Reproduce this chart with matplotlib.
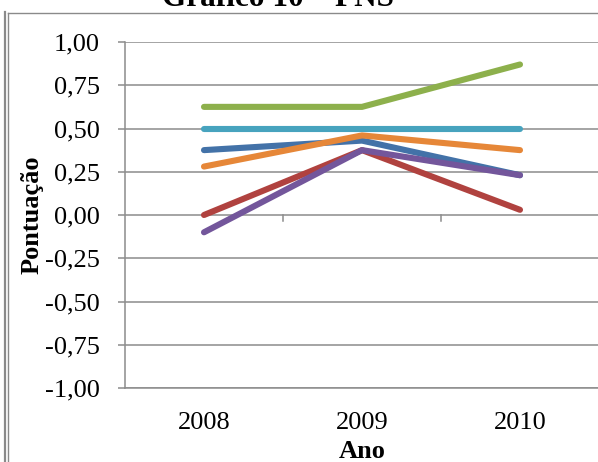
import matplotlib
matplotlib.use("Agg")
import matplotlib.pyplot as plt
from matplotlib.ticker import FuncFormatter, MultipleLocator

# Series data (Pontuação per year)
anos = ["2008", "2009", "2010"]
serie_azul = [0.375, 0.43, 0.23]
serie_vermelha = [0.0, 0.375, 0.03]
serie_verde = [0.625, 0.625, 0.87]
serie_roxa = [-0.10, 0.375, 0.23]
serie_ciano = [0.50, 0.50, 0.50]
serie_laranja = [0.28, 0.46, 0.375]

series = [
    (serie_azul, "#4372A8"),
    (serie_vermelha, "#B0423F"),
    (serie_verde, "#8DB04C"),
    (serie_roxa, "#73569B"),
    (serie_ciano, "#47A3BE"),
    (serie_laranja, "#E68738"),
]

plt.rcParams["font.family"] = ["Liberation Serif", "DejaVu Serif"]

W, H = 598, 462
fig = plt.figure(figsize=(W / 100, H / 100), dpi=100)
ax = fig.add_axes([125 / W, 1 - 388 / H, 474 / W, 346 / H])

x = list(range(len(anos)))
for vals, cor in series:
    ax.plot(x, vals, color=cor, lw=4.4, solid_capstyle="round",
            solid_joinstyle="round", zorder=3)

grid_col = "#8C8C8C"
ax.set_xlim(-0.5, len(anos) - 0.5)
ax.set_ylim(-1, 1)
ax.yaxis.set_major_locator(MultipleLocator(0.25))
ax.yaxis.set_major_formatter(FuncFormatter(lambda v, p: f"{v:.2f}".replace(".", ",")))
ax.grid(axis="y", color=grid_col, lw=1.1, zorder=1)
ax.set_axisbelow(True)

for s in ["top", "right"]:
    ax.spines[s].set_visible(False)
ax.spines["left"].set_color(grid_col)
ax.spines["left"].set_linewidth(1.1)
ax.spines["bottom"].set_color(grid_col)
ax.spines["bottom"].set_linewidth(1.1)

ax.set_xticks(x)
ax.set_xticklabels(anos)
ax.tick_params(axis="x", length=0, pad=17, labelsize=19)
ax.tick_params(axis="y", length=5, width=1.1, color=grid_col, pad=13, labelsize=19)

# Category separator ticks on the horizontal axis crossing at zero
for b in [i + 0.5 for i in x[:-1]]:
    ax.plot([b, b], [0, -0.035], color=grid_col, lw=1.1, zorder=2)

fig.text(32 / W, 1 - 215 / H, "Pontuação", rotation=90, fontsize=19,
         fontweight="bold", ha="center", va="center")
fig.text(362 / W, 1 - 458.5 / H, "Ano", fontsize=19, fontweight="bold",
         ha="center", va="baseline")
fig.text(278 / W, 1 - 6.5 / H, "Gráfico 10 – PNS", fontsize=22.5,
         fontweight="bold", ha="center", va="baseline")

# Outer frame lines
frame_col = "#8A8A8A"
fig.add_artist(plt.Line2D([5 / W, 5 / W], [0, 1 - 12 / H], color=frame_col, lw=1.6,
                          transform=fig.transFigure))
fig.add_artist(plt.Line2D([7.8 / W, 7.8 / W], [0, 1 - 12.5 / H], color=frame_col, lw=1.0,
                          transform=fig.transFigure))
fig.add_artist(plt.Line2D([7.5 / W, 1], [1 - 12.5 / H, 1 - 12.5 / H], color=frame_col, lw=1.0,
                          transform=fig.transFigure))

fig.savefig("out.png", dpi=100)
